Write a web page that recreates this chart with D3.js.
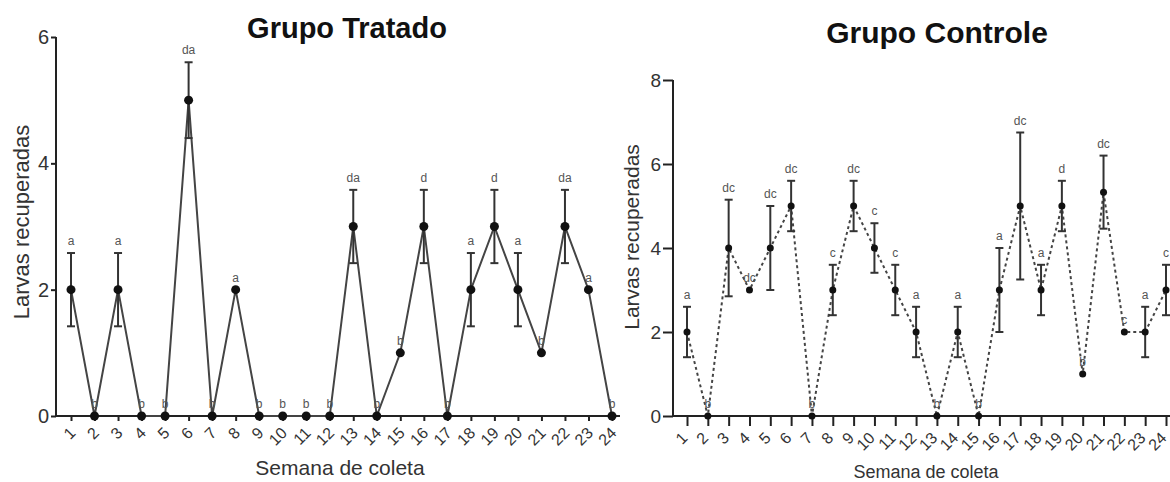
<!DOCTYPE html>
<html>
<head>
<meta charset="utf-8">
<script src="https://cdn.jsdelivr.net/npm/d3@7"></script>
<style>
  body { margin: 0; background: #fff; }
  svg { font-family: "Liberation Sans", Arial, sans-serif; }
</style>
</head>
<body>
<div id="chart"></div>
<script>
;(function () {
  const width = 1170
  const height = 482

  const weeks = d3.range(1, 25)

  // Grupo Tratado
  const tratadoMean = [2, 0, 2, 0, 0, 5, 0, 2, 0, 0, 0, 0, 3, 0, 1, 3, 0, 2, 3, 2, 1, 3, 2, 0]
  const tratadoErr = [0.58, 0, 0.58, 0, 0, 0.6, 0, 0, 0, 0, 0, 0, 0.58, 0, 0, 0.58, 0, 0.58, 0.58, 0.58, 0, 0.58, 0, 0]
  const tratadoLetters = ["a", "b", "a", "b", "b", "da", "b", "a", "b", "b", "b", "b", "da", "b", "b", "d", "b", "a", "d", "a", "b", "da", "a", "b"]

  // Grupo Controle
  const controleMean = [2, 0, 4, 3, 4, 5, 0, 3, 5, 4, 3, 2, 0, 2, 0, 3, 5, 3, 5, 1, 5.33, 2, 2, 3]
  const controleErr = [0.6, 0, 1.15, 0, 1.0, 0.6, 0, 0.6, 0.6, 0.59, 0.6, 0.6, 0, 0.6, 0, 1.0, 1.75, 0.6, 0.6, 0, 0.87, 0, 0.6, 0.6]
  const controleLetters = ["a", "b", "dc", "dc", "dc", "dc", "b", "c", "dc", "c", "c", "a", "b", "a", "b", "a", "dc", "a", "d", "b", "dc", "c", "a", "c"]

  const svg = d3.select("#chart").append("svg")
    .attr("width", width)
    .attr("height", height)

  function drawPanel(cfg) {
    const data = weeks.map((w, i) => ({
      week: w, mean: cfg.mean[i], err: cfg.err[i], letter: cfg.letters[i]
    }))

    const x = d3.scaleLinear().domain([1, 24]).range([cfg.x0, cfg.x1])
    const y = d3.scaleLinear().domain([0, cfg.yMax]).range([cfg.yBottom, cfg.yTop])

    const g = svg.append("g")

    // Y axis
    const yAxis = g.append("g")
      .attr("transform", `translate(${cfg.axisX},0)`)
      .call(d3.axisLeft(y).tickValues(cfg.yTicks).tickFormat(d3.format("d"))
        .tickSize(cfg.yTickSize).tickPadding(2))
    yAxis.select(".domain").attr("stroke", "#222").attr("stroke-width", 2)
      .attr("d", `M0,${cfg.yTop}V${cfg.yBottom}`)
    yAxis.selectAll(".tick line").attr("stroke", "#222").attr("stroke-width", 2)
    yAxis.selectAll("text").style("font-size", cfg.yTickFont).attr("fill", "#333")

    // X axis
    const xAxis = g.append("g")
      .attr("transform", `translate(0,${cfg.yBottom})`)
      .call(d3.axisBottom(x).tickValues(weeks).tickSize(cfg.xTickSize).tickSizeOuter(0))
    xAxis.select(".domain").attr("stroke", "#222").attr("stroke-width", 2)
      .attr("d", `M${cfg.axisX},0H${cfg.xEnd}`)
    xAxis.selectAll(".tick line").attr("stroke", "#222").attr("stroke-width", 2)
    xAxis.selectAll("text")
      .attr("text-anchor", "end")
      .attr("x", 0)
      .attr("y", 0)
      .attr("dx", 0)
      .attr("dy", "0.35em")
      .attr("transform", `translate(${cfg.labelShift},${cfg.xTickSize + 9}) rotate(-45)`)
      .style("font-size", "16px")
      .attr("fill", "#333")

    // Line
    const line = d3.line().x(d => x(d.week)).y(d => y(d.mean))
    g.append("path")
      .datum(data)
      .attr("fill", "none")
      .attr("stroke", "#444")
      .attr("stroke-width", cfg.lineWidth)
      .attr("stroke-dasharray", cfg.dash)
      .attr("d", line)

    // Error bars
    const eb = g.selectAll(".err")
      .data(data.filter(d => d.err > 0))
      .join("g")
      .attr("class", "err")
      .attr("stroke", "#333")
      .attr("stroke-width", 2)
    eb.append("line")
      .attr("x1", d => x(d.week)).attr("x2", d => x(d.week))
      .attr("y1", d => y(d.mean + d.err)).attr("y2", d => y(d.mean - d.err))
    eb.append("line")
      .attr("x1", d => x(d.week) - 4).attr("x2", d => x(d.week) + 4)
      .attr("y1", d => y(d.mean + d.err)).attr("y2", d => y(d.mean + d.err))
    eb.append("line")
      .attr("x1", d => x(d.week) - 4).attr("x2", d => x(d.week) + 4)
      .attr("y1", d => y(d.mean - d.err)).attr("y2", d => y(d.mean - d.err))

    // Points
    g.selectAll(".pt")
      .data(data)
      .join("circle")
      .attr("class", "pt")
      .attr("cx", d => x(d.week))
      .attr("cy", d => y(d.mean))
      .attr("r", cfg.r)
      .attr("fill", "#111")

    // Letters
    g.selectAll(".letter")
      .data(data)
      .join("text")
      .attr("class", "letter")
      .attr("x", d => x(d.week))
      .attr("y", d => y(d.mean + d.err) - 8)
      .attr("text-anchor", "middle")
      .style("font-size", "12px")
      .attr("fill", "#555")
      .text(d => d.letter)

    // Titles
    g.append("text")
      .attr("x", cfg.titleX)
      .attr("y", cfg.titleY)
      .attr("text-anchor", "middle")
      .style("font-size", cfg.titleFont)
      .style("font-weight", "bold")
      .attr("fill", "#111")
      .text(cfg.title)

    g.append("text")
      .attr("x", cfg.xLabelX)
      .attr("y", cfg.xLabelY)
      .attr("text-anchor", "middle")
      .style("font-size", cfg.xLabelFont)
      .attr("fill", "#333")
      .text("Semana de coleta")

    g.append("text")
      .attr("transform", `translate(${cfg.yLabelX},${cfg.yLabelY}) rotate(-90)`)
      .attr("text-anchor", "middle")
      .style("font-size", cfg.yLabelFont)
      .attr("fill", "#333")
      .text("Larvas recuperadas")
  }

  drawPanel({
    title: "Grupo Tratado",
    mean: tratadoMean, err: tratadoErr, letters: tratadoLetters,
    x0: 71, x1: 612, axisX: 56, xEnd: 620,
    yMax: 6, yTicks: [0, 2, 4, 6], yTop: 37, yBottom: 416,
    yTickSize: 5, xTickSize: 5, yTickFont: "20px", labelShift: 1,
    lineWidth: 2, dash: null, r: 4.5,
    titleX: 347, titleY: 38, titleFont: "29px",
    xLabelX: 340, xLabelY: 475, xLabelFont: "21px",
    yLabelX: 29, yLabelY: 222, yLabelFont: "22px"
  })

  drawPanel({
    title: "Grupo Controle",
    mean: controleMean, err: controleErr, letters: controleLetters,
    x0: 687, x1: 1166, axisX: 673, xEnd: 1170,
    yMax: 8, yTicks: [0, 2, 4, 6, 8], yTop: 80, yBottom: 416,
    yTickSize: 10, xTickSize: 10, yTickFont: "19px", labelShift: -3,
    lineWidth: 2, dash: "3,3", r: 3.5,
    titleX: 937, titleY: 43, titleFont: "30px",
    xLabelX: 926, xLabelY: 478, xLabelFont: "18px",
    yLabelX: 639, yLabelY: 237, yLabelFont: "21px"
  })
})()
</script>
</body>
</html>
